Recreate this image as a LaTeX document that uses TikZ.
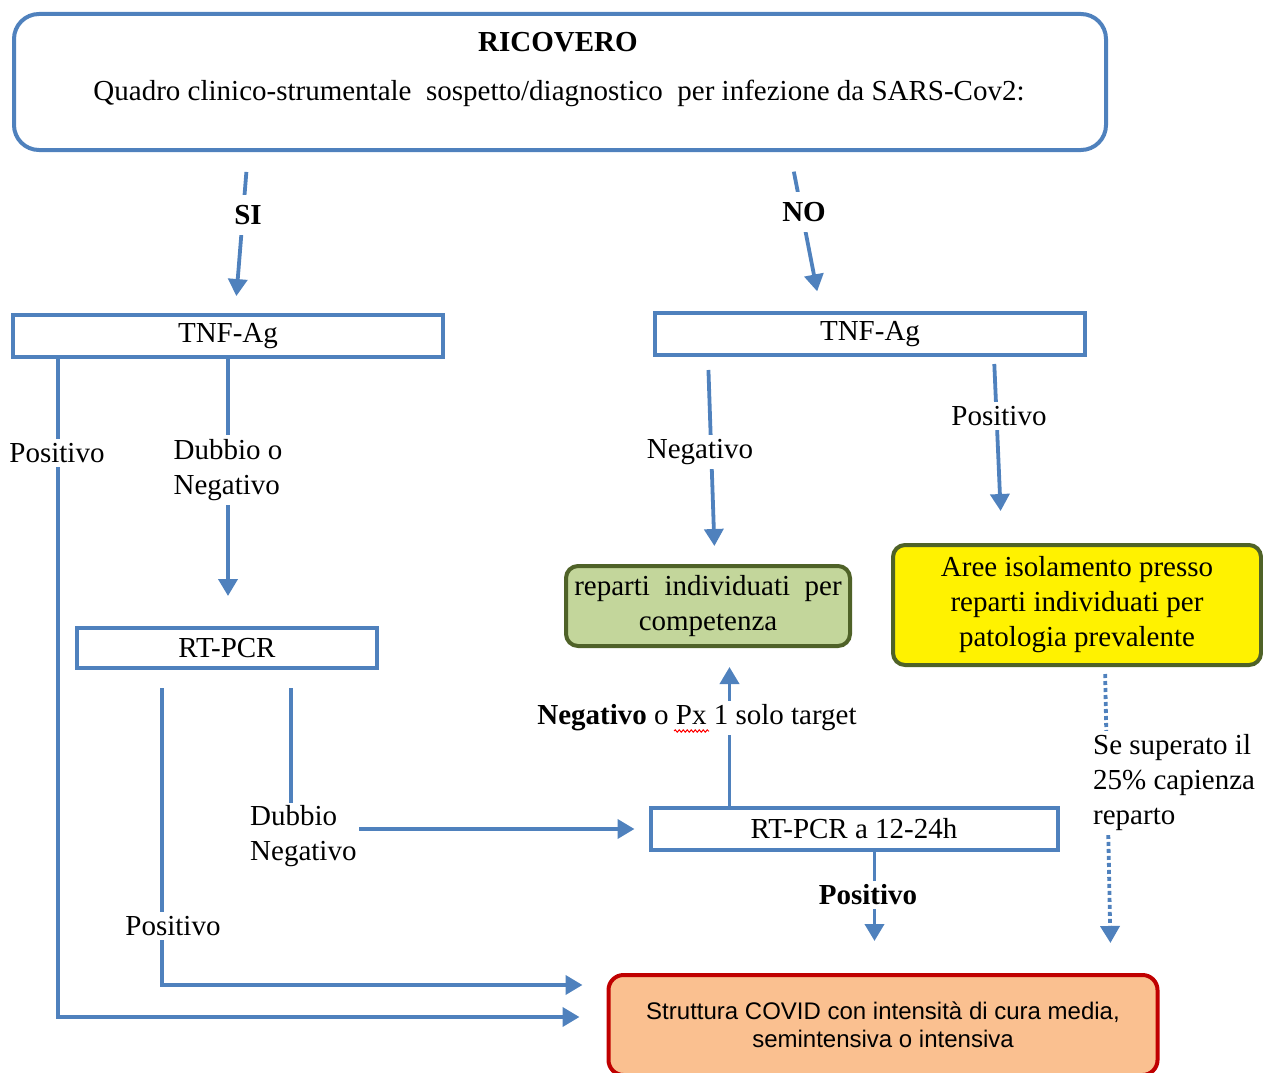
\documentclass[tikz,border=0pt]{standalone}
\usepackage{fontspec}
\setmainfont{Liberation Serif}
\newfontfamily\arialfont{Liberation Sans}
\usetikzlibrary{arrows.meta,decorations.pathmorphing}
\definecolor{ofblue}{HTML}{4F81BD}
\definecolor{olivebd}{HTML}{4F6228}
\definecolor{greenfill}{HTML}{C3D69B}
\definecolor{orangefill}{HTML}{FAC090}
\definecolor{redbd}{HTML}{C00000}

\begin{document}
\begin{tikzpicture}[x=1pt,y=-1pt,
    font=\fontsize{29}{35}\selectfont,
    bluebox/.style={draw=ofblue,line width=4pt,inner sep=0pt,minimum height=42pt},
    greenbox/.style={draw=olivebd,line width=4pt,rounded corners=12pt,align=center,inner sep=0pt},
    flow/.style={draw=ofblue,line width=3.8pt,-{Triangle[length=17pt,width=19pt]}},
    lbl/.style={fill=white,inner sep=4pt,align=left}]
  \useasboundingbox (0,0) rectangle (1263,1073);

  % boxes
  \node[bluebox,rounded corners=25pt,minimum width=1092pt,minimum height=136pt] (ricovero) at (560,82) {};
  \node[font=\fontsize{29}{35}\selectfont\bfseries] (titolo) at (558,42) {RICOVERO};
  \node (quadro) at (559,93) {Quadro clinico-strumentale\ \ sospetto/diagnostico\ \ per infezione da SARS-Cov2:};
  \node[bluebox,minimum width=430pt] (tnfL) at (228,336) {TNF-Ag};
  \node[bluebox,minimum width=430pt] (tnfR) at (870,334) {TNF-Ag};
  \node[bluebox,minimum width=300pt,minimum height=40pt] (rtpcr) at (227,648) {RT-PCR};
  \node[bluebox,minimum width=407pt] (rtpcr12) at (854,829) {RT-PCR a 12-24h};
  \node[greenbox,fill=greenfill,minimum width=284pt,minimum height=80pt] (verde) at (708,606) {reparti\ \ individuati\ \ per\\competenza};
  \node[greenbox,fill=yellow,minimum width=368pt,minimum height=120pt] (giallo) at (1077,605) {Aree isolamento presso\\reparti individuati per\\patologia prevalente};
  \node[draw=redbd,fill=orangefill,line width=4pt,rounded corners=15pt,minimum width=549pt,minimum height=100pt,align=center,
        font=\arialfont\fontsize{24}{28}\selectfont] (covid) at (883,1025) {Struttura COVID con intensità di cura media,\\semintensiva o intensiva};

  % connectors
  \draw[flow,shorten <=20pt,shorten >=17pt] ([xshift=236pt]ricovero.south west) -- ([xshift=224pt]tnfL.north west);
  \draw[flow,shorten <=20pt,shorten >=20pt] ([xshift=778pt]ricovero.south west) -- ([xshift=168pt]tnfR.north west);
  \draw[flow,shorten >=27pt] ([xshift=47pt]tnfL.south west) |- ([yshift=8pt]covid.west);
  \draw[flow,shorten >=30pt] ([xshift=217pt]tnfL.south west) -- ([xshift=217pt]tnfL.south west |- rtpcr.north);
  \draw[flow,shorten <=18pt,shorten >=24pt] ([xshift=87pt]rtpcr.south west) |- ([yshift=40pt]covid.west);
  \draw[flow,shorten <=18pt,shorten >=14pt] ([xshift=216pt]rtpcr.south west) |- (rtpcr12.west);
  \draw[flow,shorten >=19pt] ([xshift=81pt]rtpcr12.north west) -- ([xshift=81pt]rtpcr12.north west |- verde.south);
  \draw[flow,shorten >=32pt] ([xshift=226pt]rtpcr12.south west) -- ([xshift=226pt]rtpcr12.south west |- covid.north);
  \draw[flow,shorten <=13pt,shorten >=18pt] ([xshift=55pt]tnfR.south west) -- ([xshift=62pt]tnfR.south west |- verde.north);
  \draw[flow,shorten <=7pt,shorten >=32pt] ([xshift=341pt]tnfR.south west) -- ([xshift=349pt]tnfR.south west |- giallo.north);
  \draw[flow,dash pattern=on 4pt off 3pt,shorten <=7pt,shorten >=30pt] ([xshift=214pt]giallo.south west) -- ([xshift=220pt]giallo.south west |- covid.north);

  % labels
  \node[lbl,inner sep=10pt,font=\fontsize{29}{35}\selectfont\bfseries] (si) at (248,215) {SI};
  \node[lbl,inner sep=10pt,font=\fontsize{29}{35}\selectfont\bfseries] (no) at (804,212) {NO};
  \node[lbl] (posL) at (57,453) {Positivo};
  \node[lbl] (dubbioA) at (228,470) {Dubbio o\\Negativo};
  \node[lbl] (posB) at (173,926) {Positivo};
  \node[lbl,inner sep=2pt,anchor=west] (dubbioB) at (248,836) {Dubbio\\Negativo};
  \node[lbl] (target) at (697,718) {\textbf{Negativo} o Px 1 solo target};
  \draw[red,line width=1pt,decorate,decoration={snake,amplitude=1.2pt,segment length=4pt}] (674,731) -- (709,731);
  \node[lbl,font=\fontsize{29}{35}\selectfont\bfseries] (posC) at (868,895) {Positivo};
  \node[lbl] (negR) at (700,452) {Negativo};
  \node[lbl] (posR) at (999,416) {Positivo};
  \node[lbl,anchor=west] (soglia) at (1089,783) {Se superato il\\25\% capienza\\reparto};
\end{tikzpicture}
\end{document}
